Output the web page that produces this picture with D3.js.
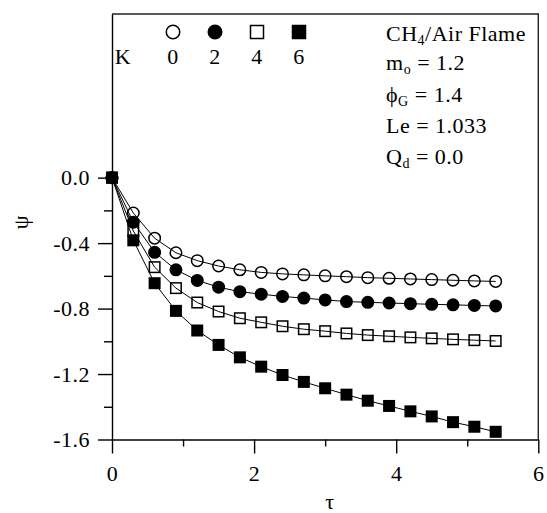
<!DOCTYPE html>
<html>
<head>
<meta charset="utf-8">
<script src="https://cdn.jsdelivr.net/npm/d3@7/dist/d3.min.js"></script>
<style>
  html, body { margin: 0; padding: 0; background: #fff; }
  svg { display: block; }
  text { font-family: "Liberation Serif", "Times New Roman", serif; fill: #000; letter-spacing: 0.5px; }
</style>
</head>
<body>
<svg id="chart" width="547" height="513"></svg>
<script>
// Dimensionless time at which each series was sampled
const tau = [0, 0.3, 0.6, 0.9, 1.2, 1.5, 1.8, 2.1, 2.4, 2.7, 3.0, 3.3, 3.6, 3.9, 4.2, 4.5, 4.8, 5.1, 5.4];

// psi(tau) for each value of K
const psiK0 = [0, -0.216, -0.370, -0.459, -0.507, -0.540, -0.563, -0.579, -0.588, -0.594, -0.600, -0.605, -0.611, -0.615, -0.619, -0.623, -0.627, -0.631, -0.634];
const psiK2 = [0, -0.272, -0.456, -0.563, -0.628, -0.669, -0.697, -0.712, -0.726, -0.736, -0.747, -0.757, -0.762, -0.766, -0.770, -0.774, -0.777, -0.781, -0.784];
const psiK4 = [0, -0.326, -0.547, -0.675, -0.763, -0.818, -0.859, -0.884, -0.908, -0.926, -0.938, -0.952, -0.962, -0.969, -0.976, -0.982, -0.988, -0.993, -0.998];
const psiK6 = [0, -0.383, -0.645, -0.814, -0.934, -1.022, -1.098, -1.155, -1.206, -1.248, -1.287, -1.326, -1.363, -1.395, -1.428, -1.459, -1.494, -1.522, -1.553];

const kLabels = ["0", "2", "4", "6"];
const xMajorTicks = [0, 2, 4, 6];
const xMinorTicks = [1, 3, 5];
const yMajorTicks = [-1.6, -1.2, -0.8, -0.4, 0.0];
const yMinorTicks = [-1.4, -1.0, -0.6, -0.2];

const series = [
  { k: kLabels[0], values: psiK0, shape: "circle", filled: false },
  { k: kLabels[1], values: psiK2, shape: "circle", filled: true },
  { k: kLabels[2], values: psiK4, shape: "square", filled: false },
  { k: kLabels[3], values: psiK6, shape: "square", filled: true }
];

const svg = d3.select("#chart");
const FONT = 22;

const x = d3.scaleLinear().domain([0, 6]).range([112, 538.3]);
const y = d3.scaleLinear().domain([-1.6, 1.0]).range([439.5, 14.0]);

const axisStroke = 1.4;

// Frame: top and right edges
svg.append("path")
  .attr("d", `M${x(0)},${y(1.0)}H${x(6)}V${y(-1.6)}`)
  .attr("fill", "none").attr("stroke", "#222").attr("stroke-width", axisStroke);

function styleAxis(g) {
  g.selectAll("path.domain").attr("stroke", "#000").attr("stroke-width", axisStroke);
  g.selectAll(".tick line").attr("stroke", "#000").attr("stroke-width", axisStroke);
  g.selectAll(".tick text").style("font-size", FONT + "px").style("font-family", '"Liberation Serif", serif');
}

// Bottom axis
const gx = svg.append("g").attr("transform", `translate(0,${y(-1.6)})`);
gx.call(d3.axisBottom(x).tickValues(xMajorTicks).tickSize(14).tickSizeOuter(0).tickPadding(12)
  .tickFormat(d => String(d)));
styleAxis(gx);
const gxm = svg.append("g").attr("transform", `translate(0,${y(-1.6)})`);
gxm.call(d3.axisBottom(x).tickValues(xMinorTicks).tickSize(7).tickSizeOuter(0).tickFormat(""));
gxm.select("path.domain").remove();
styleAxis(gxm);

// Left axis
const gy = svg.append("g").attr("transform", `translate(${x(0)},0)`);
gy.call(d3.axisLeft(y).tickValues(yMajorTicks).tickSize(14).tickSizeOuter(0).tickPadding(8)
  .tickFormat(d => d.toFixed(1)));
styleAxis(gy);
const gym = svg.append("g").attr("transform", `translate(${x(0)},0)`);
gym.call(d3.axisLeft(y).tickValues(yMinorTicks).tickSize(8).tickSizeOuter(0).tickFormat(""));
gym.select("path.domain").remove();
styleAxis(gym);

// Axis titles
svg.append("text").attr("x", 330).attr("y", 509).attr("text-anchor", "middle")
  .style("font-size", FONT + "px").text("τ");
svg.append("text").attr("transform", "translate(20,222) rotate(-90)")
  .attr("text-anchor", "middle").attr("dominant-baseline", "central")
  .style("font-size", FONT + "px").text("ψ");

// Marker drawing helper
function drawMarker(g, cx, cy, s, size) {
  if (s.shape === "circle") {
    g.append("circle").attr("cx", cx).attr("cy", cy).attr("r", size / 2)
      .attr("fill", s.filled ? "#000" : "none").attr("stroke", "#000").attr("stroke-width", 1.5);
  } else {
    g.append("rect").attr("x", cx - size / 2).attr("y", cy - size / 2)
      .attr("width", size).attr("height", size)
      .attr("fill", s.filled ? "#000" : "none").attr("stroke", "#000").attr("stroke-width", 1.5);
  }
}

// Curves
const line = d3.line().x((d, i) => x(tau[i])).y(d => y(d));
const plot = svg.append("g");
series.forEach(s => {
  plot.append("path").datum(s.values).attr("d", line)
    .attr("fill", "none").attr("stroke", "#000").attr("stroke-width", 1);
});
series.forEach(s => {
  const g = plot.append("g");
  s.values.forEach((v, i) => {
    const size = s.shape === "circle" ? 11.5 : 10.5;
    drawMarker(g, x(tau[i]), y(v), s, size);
  });
});

// Legend
const legendX = [173, 215, 257, 299];
const legend = svg.append("g");
series.forEach((s, i) => {
  drawMarker(legend, legendX[i], 32, s, s.shape === "circle" ? 13.5 : 13);
  legend.append("text").attr("x", legendX[i]).attr("y", 64).attr("text-anchor", "middle")
    .style("font-size", FONT + "px").text(s.k);
});
legend.append("text").attr("x", 123).attr("y", 64).attr("text-anchor", "middle")
  .style("font-size", FONT + "px").text("K");

// Parameter annotations
const notes = [
  { main: "CH", sub: "4", rest: "/Air Flame", y: 40.5 },
  { main: "m", sub: "o", rest: " = 1.2", y: 70 },
  { main: "ϕ", sub: "G", rest: " = 1.4", y: 101.5 },
  { main: "Le = 1.033", sub: null, rest: "", y: 132.5 },
  { main: "Q", sub: "d", rest: " = 0.0", y: 164 }
];
notes.forEach(n => {
  const t = svg.append("text").attr("x", 386).attr("y", n.y).style("font-size", FONT + "px");
  t.append("tspan").text(n.main);
  if (n.sub) {
    t.append("tspan").attr("dy", 4).style("font-size", "14px").text(n.sub);
    t.append("tspan").attr("dy", -4).text(n.rest);
  }
});
</script>
</body>
</html>
